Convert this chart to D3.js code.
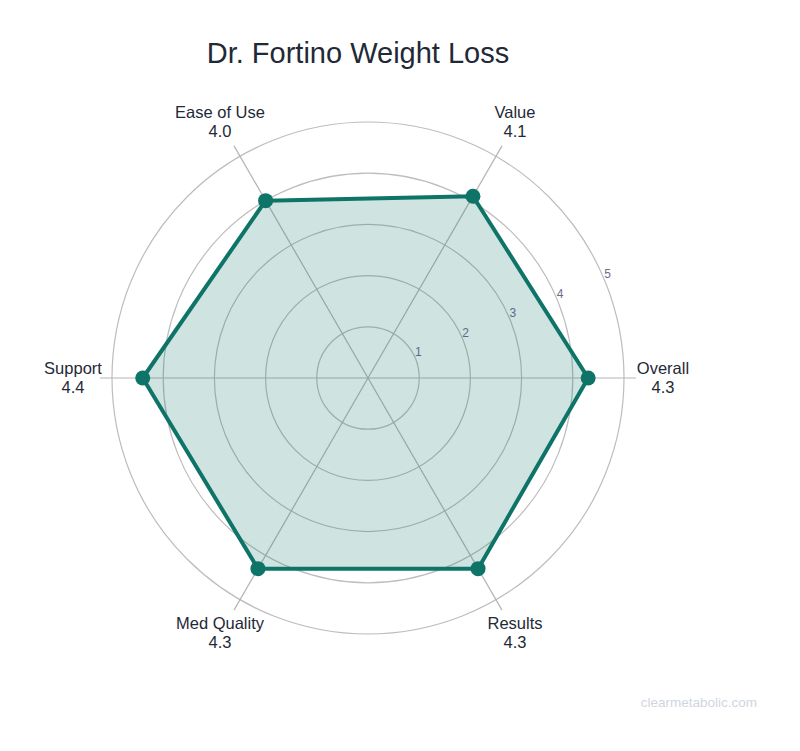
<!DOCTYPE html>
<html><head><meta charset="utf-8">
<script src="https://cdn.jsdelivr.net/npm/d3@7"></script>
<style>body{margin:0;background:#fff;font-family:"Liberation Sans",Arial,sans-serif;}</style>
</head><body><svg id="c" width="800" height="751"></svg>
<script>
const categories = ["Overall","Value","Ease of Use","Support","Med Quality","Results"];
const values = [4.3, 4.1, 4.0, 4.4, 4.3, 4.3];
const angles = [0, 60, 120, 180, 240, 300];
const radialTicks = [1,2,3,4,5];
const title = "Dr. Fortino Weight Loss";
const watermark = "clearmetabolic.com";

const svg = d3.select("#c");
const cx = 368, cy = 378, R = 256;
const r = d3.scaleLinear().domain([0,5]).range([0,R]);
const ink = "#1f2937", teal = "#0f7468";
const pt = (deg, rad) => [cx + rad*Math.cos(deg*Math.PI/180), cy - rad*Math.sin(deg*Math.PI/180)];

svg.append("text").attr("x",358).attr("y",63).attr("text-anchor","middle")
  .attr("font-size",29).attr("fill",ink).text(title);

// grid circles
svg.append("g").selectAll("circle").data(radialTicks).join("circle")
  .attr("cx",cx).attr("cy",cy).attr("r",d=>r(d))
  .attr("fill","none").attr("stroke","#bdbdbd").attr("stroke-width",1.2);

// spokes
svg.append("g").selectAll("line").data(angles).join("line")
  .attr("x1",cx).attr("y1",cy)
  .attr("x2",d=>pt(d,R+12)[0]).attr("y2",d=>pt(d,R+12)[1])
  .attr("stroke","#b5b5b5").attr("stroke-width",1.2);

// radial tick labels
const ta = 22.5;
svg.append("g").selectAll("text").data(radialTicks).join("text")
  .attr("x",d=>pt(ta,r(d))[0]+3).attr("y",d=>pt(ta,r(d))[1]-2)
  .attr("text-anchor","middle").attr("font-size",12).attr("fill","#6b6b8e").text(d=>d);

// polygon
const poly = values.map((v,i)=>pt(angles[i], r(v)));
svg.append("path").attr("d", d3.line().curve(d3.curveLinearClosed)(poly))
  .attr("fill","rgba(15,116,104,0.2)").attr("stroke",teal).attr("stroke-width",4).attr("stroke-linejoin","round");
svg.append("g").selectAll("circle").data(poly).join("circle")
  .attr("cx",d=>d[0]).attr("cy",d=>d[1]).attr("r",7.5).attr("fill",teal);

// category labels
const labelPos = [
  {x:663, y:374}, {x:515, y:118}, {x:220, y:118}, {x:73, y:374}, {x:220, y:629}, {x:515, y:629}
];
const lg = svg.append("g");
categories.forEach((c,i)=>{
  const lp = labelPos[i];
  const t = lg.append("text").attr("text-anchor","middle").attr("font-size",16.5).attr("fill",ink);
  t.append("tspan").attr("x",lp.x).attr("y",lp.y).text(c);
  t.append("tspan").attr("x",lp.x).attr("dy",19).text(values[i].toFixed(1));
});

svg.append("text").attr("x",757).attr("y",707).attr("text-anchor","end")
  .attr("font-size",13.5).attr("fill","#cfd6e0").text(watermark);
</script></body></html>
